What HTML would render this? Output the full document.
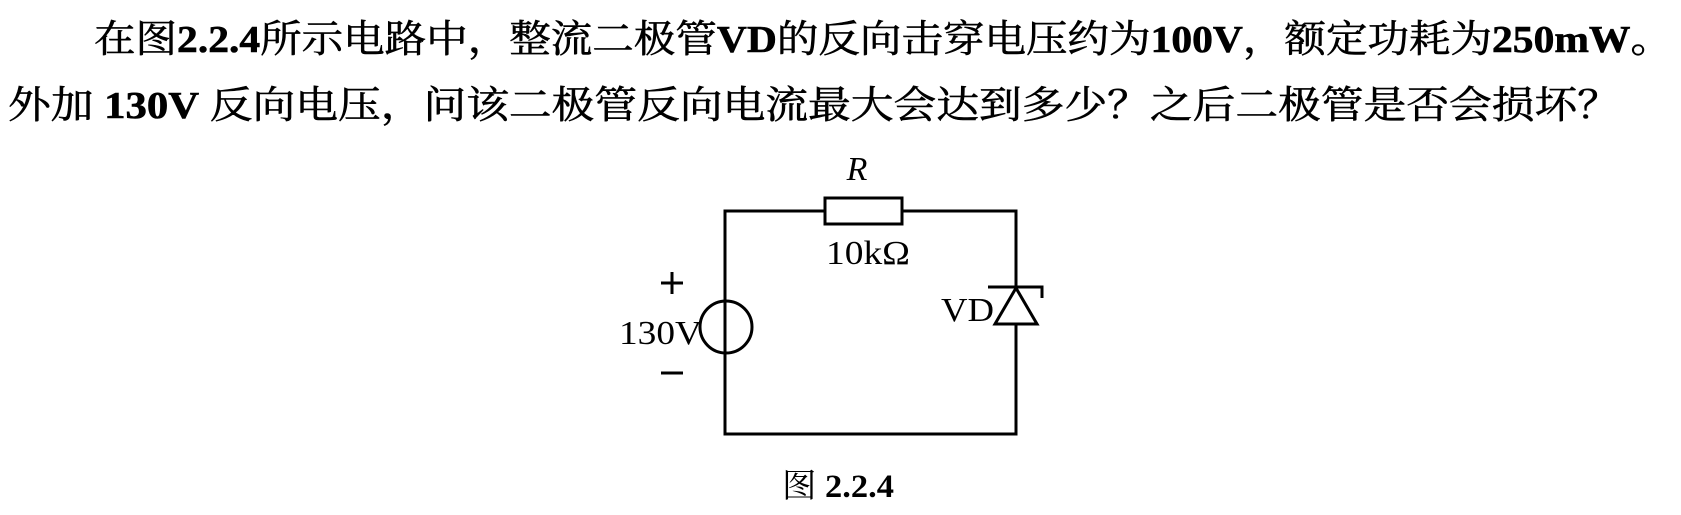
<!DOCTYPE html>
<html><head><meta charset="utf-8"><style>
html,body{margin:0;padding:0;background:#fff;}
svg{display:block;}
text{font-family:"Liberation Serif","Noto Serif CJK SC",serif;fill:#000;}
</style></head><body>
<svg width="1681" height="515" viewBox="0 0 1681 515" xmlns="http://www.w3.org/2000/svg">
<text x="94" y="52" font-size="38" stroke="#000" stroke-width="0.6" textLength="1578" lengthAdjust="spacingAndGlyphs">在图<tspan font-weight="bold">2.2.4</tspan>所示电路中，整流二极管<tspan font-weight="bold">VD</tspan>的反向击穿电压约为<tspan font-weight="bold">100V</tspan>，额定功耗为<tspan font-weight="bold">250mW</tspan>。</text>
<text x="8" y="118" font-size="38" stroke="#000" stroke-width="0.6" textLength="1612" lengthAdjust="spacingAndGlyphs">外加 <tspan font-weight="bold">130V</tspan> 反向电压，问该二极管反向电流最大会达到多少？之后二极管是否会损坏？</text>
<g stroke="#000" stroke-width="3" fill="none">
<polyline points="825,211 725,211 725,434 1016,434 1016,211 902,211"/>
<rect x="825" y="198" width="77" height="26" fill="#fff"/>
<circle cx="726" cy="327" r="26" fill="#fff"/>
<line x1="725" y1="301" x2="725" y2="353"/>
<polygon points="1016,288 995,324 1037,324" fill="#fff"/>
<polyline points="988,287 1042,287 1042,298"/>
<line x1="661" y1="283" x2="683" y2="283"/>
<line x1="672" y1="272" x2="672" y2="294"/>
<line x1="661" y1="373" x2="683" y2="373"/>
</g>
<text x="857" y="180" font-size="34" font-style="italic" text-anchor="middle">R</text>
<text x="868" y="264" font-size="34" text-anchor="middle" textLength="84" lengthAdjust="spacingAndGlyphs">10kΩ</text>
<text x="619" y="344" font-size="34" textLength="83" lengthAdjust="spacingAndGlyphs">130V</text>
<text x="941" y="321" font-size="34" textLength="53" lengthAdjust="spacingAndGlyphs">VD</text>
<text x="782" y="497" font-size="33" textLength="112" lengthAdjust="spacingAndGlyphs">图 <tspan font-weight="bold">2.2.4</tspan></text>
</svg>
</body></html>
